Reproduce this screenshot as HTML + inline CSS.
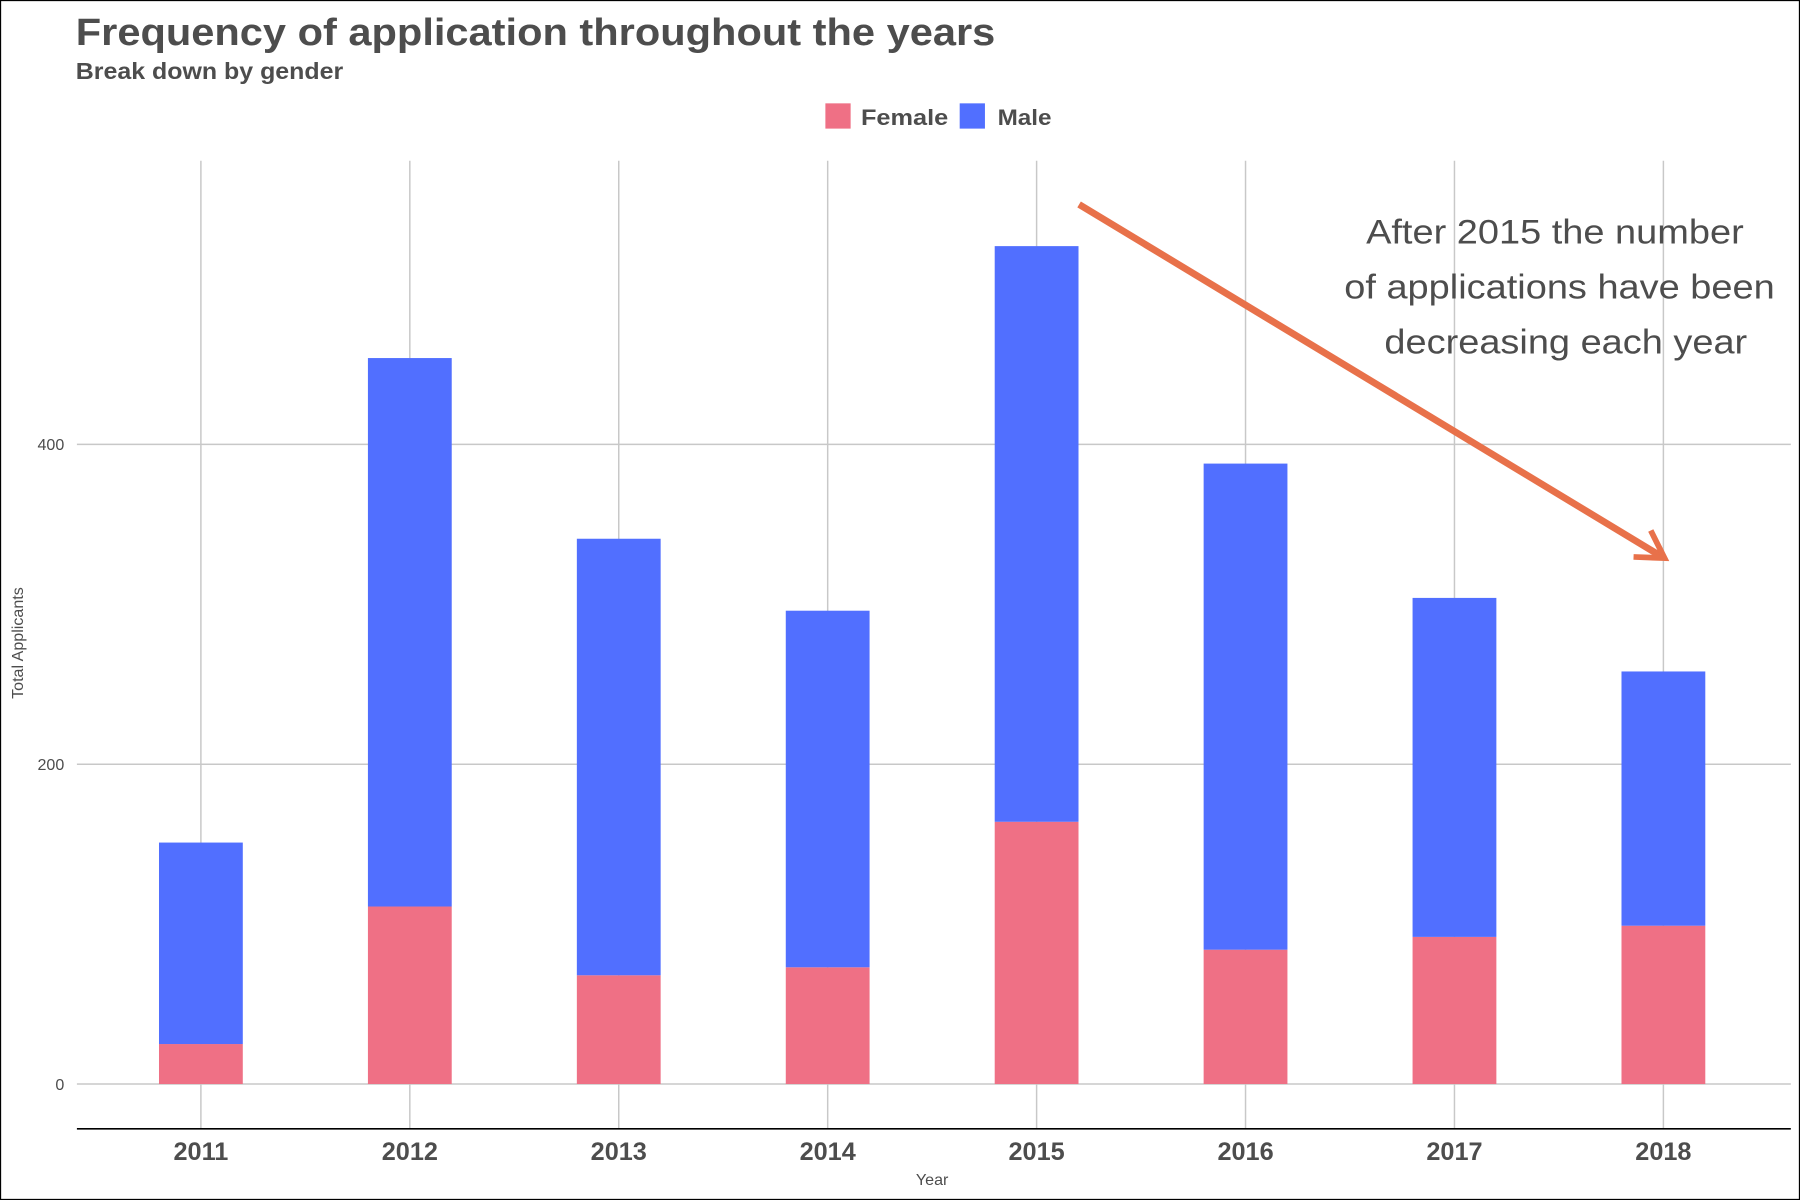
<!DOCTYPE html>
<html><head><meta charset="utf-8"><style>
html,body{margin:0;padding:0;background:#fff;}
svg{display:block;font-family:"Liberation Sans",Arial,sans-serif;}
</style></head><body>
<svg id="chart" width="1800" height="1200" viewBox="0 0 1568 1045" preserveAspectRatio="none" xmlns="http://www.w3.org/2000/svg">
<rect x="0.5" y="0.5" width="1567" height="1044" fill="#fff" stroke="#000" stroke-width="1"/>
<text x="66" y="39" font-size="33" font-weight="bold" fill="#4d4d4d" textLength="801" lengthAdjust="spacingAndGlyphs">Frequency of application throughout the years</text>
<text x="66" y="69" font-size="20" font-weight="bold" fill="#4d4d4d" textLength="233" lengthAdjust="spacingAndGlyphs">Break down by gender</text>
<g>
<rect x="719" y="90" width="22" height="22" fill="#ef7085"/>
<text x="750" y="109" font-size="19" font-weight="bold" fill="#4d4d4d" textLength="76" lengthAdjust="spacingAndGlyphs">Female</text>
<rect x="836" y="90" width="22" height="22" fill="#516fff"/>
<text x="869" y="109" font-size="19" font-weight="bold" fill="#4d4d4d" textLength="47" lengthAdjust="spacingAndGlyphs">Male</text>
</g>
<g id="grid"></g>
<g id="bars"></g>
<g id="axes"></g>
<line x1="67" y1="983" x2="1560" y2="983" stroke="#000" stroke-width="1.5"/>
<text x="812" y="1032" font-size="14" fill="#4d4d4d" text-anchor="middle">Year</text>
<text transform="translate(20,560) rotate(-90)" font-size="14" fill="#4d4d4d" text-anchor="middle">Total Applicants</text>
<g>
<line x1="940" y1="178" x2="1448" y2="485" stroke="#e8714a" stroke-width="6"/>
<polyline points="1438,462 1450,486 1423,485" fill="none" stroke="#e8714a" stroke-width="5"/>
</g>
<g font-size="30" fill="#4d4d4d" lengthAdjust="spacingAndGlyphs">
<text x="1190" y="212" textLength="329" lengthAdjust="spacingAndGlyphs">After 2015 the number</text>
<text x="1171" y="260" textLength="375" lengthAdjust="spacingAndGlyphs">of applications have been</text>
<text x="1206" y="308" textLength="316" lengthAdjust="spacingAndGlyphs">decreasing each year</text>
</g>
</svg>
<script>
const years=["2011","2012","2013","2014","2015","2016","2017","2018"];
const female=[25,111,68,73,164,84,92,99];
const male=[126,343,273,223,360,304,212,159];
const yTicks=[0,200,400];
const NS="http://www.w3.org/2000/svg";
const x0=175,step=182,barW=73;
function xs(i){return x0+i*step;}
function ys(v){return 944-v*(278.5/200);}
function mk(t,a,p){const e=document.createElementNS(NS,t);for(const k in a)e.setAttribute(k,a[k]);p.appendChild(e);return e;}
const grid=document.getElementById('grid'),bars=document.getElementById('bars'),axes=document.getElementById('axes');
yTicks.forEach(v=>{
 const l=mk('line',{x1:67,x2:1560,y1:ys(v),y2:ys(v),stroke:'#c8c8c8','stroke-width':1.3},grid);
 
 
 const t=mk('text',{x:56,y:ys(v)+5,'font-size':14,fill:'#4d4d4d','text-anchor':'end'},axes);
 t.textContent=v;
 
 
});
years.forEach((y,i)=>{
 const g=mk('line',{x1:xs(i),x2:xs(i),y1:140,y2:983,stroke:'#c8c8c8','stroke-width':1.3},grid);
 
 
 const f=mk('rect',{x:xs(i)-barW/2,width:barW,y:ys(female[i]),height:ys(0)-ys(female[i]),fill:'#ef7085'},bars);
 
 
 const tot=female[i]+male[i];
 const m=mk('rect',{x:xs(i)-barW/2,width:barW,y:ys(tot),height:ys(female[i])-ys(tot),fill:'#516fff'},bars);
 
 
 const t=mk('text',{x:xs(i),y:1010,'font-size':22,'font-weight':'bold',fill:'#4d4d4d','text-anchor':'middle'},axes);
 t.textContent=y;
 
 
});
</script>
</body></html>
